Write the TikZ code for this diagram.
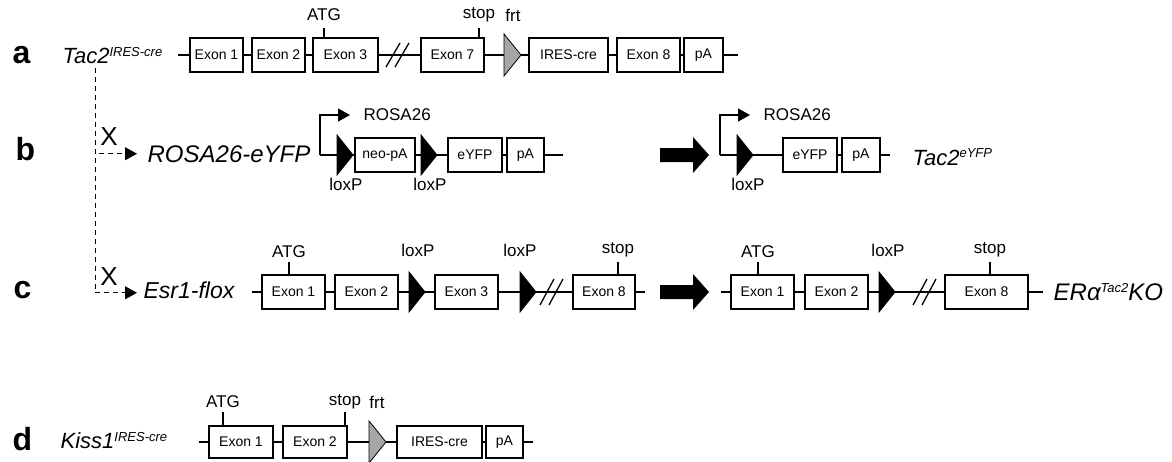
\documentclass[tikz,border=0pt]{standalone}
\usepackage{fontspec}
\setmainfont{Liberation Sans}
\usetikzlibrary{positioning}
\usetikzlibrary{shapes.geometric}
\usetikzlibrary{arrows.meta}

\begin{document}
\begin{tikzpicture}[x=1pt,y=-1pt,line width=1.3pt,>={Triangle[length=12pt,width=13pt]}]
			\tikzstyle{exon}=[draw,fill=white,minimum height=34pt,inner sep=0pt,outer sep=0pt,font=\fontsize{14}{16}\selectfont]
			\tikzstyle{loxp}=[isosceles triangle,isosceles triangle stretches,draw,line width=0.8pt,fill=black,minimum height=16pt,minimum width=40pt,inner sep=0pt,outer sep=0pt,anchor=apex]
			\tikzstyle{frt}=[loxp,fill=black!35,minimum height=17pt,minimum width=42pt]
			\tikzstyle{lbl}=[inner sep=0pt,font=\fontsize{17}{19}\selectfont]
			\tikzstyle{panel}=[anchor=base west,inner sep=0pt,font=\fontsize{32}{34}\selectfont\bfseries]
			\tikzstyle{allele}=[anchor=base west,inner sep=0pt,font=\fontsize{23}{26}\selectfont\itshape]
			\tikzstyle{xmark}=[inner sep=0pt,font=\fontsize{26}{28}\selectfont]
			\tikzstyle{dashln}=[dash pattern=on 5pt off 4pt,line width=1pt]
			\useasboundingbox (0,0) rectangle (1172,461);

			\node[panel]  (pa)   at (12,63)  {a};
			\node[allele,font=\fontsize{22}{26}\selectfont\itshape] (tac2) at (62,63) {Tac2\raisebox{7pt}{\fontsize{13}{15}\selectfont IRES-cre}};
			\coordinate   (a0)   at (178,55);
			\node[exon,minimum width=53pt] (ex1a)  at (216.5,55) {Exon 1};
			\node[exon,minimum width=53pt] (ex2a)  at (278.5,55) {Exon 2};
			\node[exon,minimum width=65pt] (ex3a)  at (345.5,55) {Exon 3};
			\node[exon,minimum width=63pt] (ex7a)  at (452.5,55) {Exon 7};
			\node[frt]                     (frta)  at (521,55)   {};
			\node[exon,minimum width=79pt] (iresa) at (568.5,55) {IRES-cre};
			\node[exon,minimum width=63pt] (ex8a)  at (648.5,55) {Exon 8};
			\node[exon,minimum width=39pt] (pAa)   at (703.5,55) {pA};
			\coordinate   (a9)   at (738,55);
			\node[lbl]    (atga)  at (324,15) {ATG};
			\node[lbl]    (stopa) at (479,15) {stop};
			\node[lbl]    (frtla) at (513,15) {frt};

			\path (a0) edge (ex1a)
			(ex1a) edge (ex2a)
			(ex2a) edge (ex3a)
			(ex3a) edge (ex7a)
			(ex7a) edge (frta)
			(frta) edge (iresa)
			(iresa) edge (ex8a)
			(ex8a) edge (pAa)
			(pAa) edge (a9);
			\draw (atga.south |- ex3a.north) -- ++(0,-10);
			\draw (stopa.south |- ex7a.north) -- ++(0,-10);
			\draw[shift={(398,55)}] (-12,12) -- (2,-12) (-3,12) -- (11,-12);

			\node[panel]  (pb)   at (15,160) {b};
			\node[allele,font=\fontsize{24}{26}\selectfont\itshape] (rosaeyfp) at (147,162) {ROSA26-eYFP};
			\node[xmark]  (xb)   at (109,137) {X};
			\coordinate   (b0)   at (320,155);
			\node[loxp]                    (lxb1)  at (353,155) {};
			\node[exon,minimum width=60pt] (neob)  at (385,155) {neo-pA};
			\node[loxp]                    (lxb2)  at (437,155) {};
			\node[exon,minimum width=54pt] (eyfpb) at (475,155) {eYFP};
			\node[exon,minimum width=37pt] (pAb)   at (525.5,155) {pA};
			\coordinate   (b9)   at (563,155);
			\node[lbl,anchor=west] (rosab) at (363,115) {ROSA26};
			\node[lbl]    (loxb1) at (346,184) {loxP};
			\node[lbl]    (loxb2) at (430,184) {loxP};

			\path (b0) edge (lxb1)
			(lxb1) edge (neob)
			(neob) edge (lxb2)
			(lxb2) edge (eyfpb)
			(eyfpb) edge (pAb)
			(pAb) edge (b9);
			\draw[->,shorten >=13pt] (b0) |- (rosab.west);

			\coordinate   (arrb) at (660,155);
			\fill[shift={(arrb)}] (0,-7) -- (33,-7) -- (33,-18) -- (49,0) -- (33,18) -- (33,7) -- (0,7) -- cycle;

			\coordinate   (b0r)  at (720,155);
			\node[loxp]                    (lxb3)  at (753,155) {};
			\node[exon,minimum width=54pt] (eyfpr) at (810,155) {eYFP};
			\node[exon,minimum width=38pt] (pAr)   at (861,155) {pA};
			\coordinate   (b9r)  at (890,155);
			\node[lbl,anchor=west] (rosar) at (763,115) {ROSA26};
			\node[lbl]    (loxb3) at (748,184) {loxP};
			\node[allele,font=\fontsize{22}{26}\selectfont\itshape] (tac2yfp) at (912,165) {Tac2\raisebox{8pt}{\fontsize{13}{15}\selectfont eYFP}};

			\path (b0r) edge (lxb3)
			(lxb3) edge (eyfpr)
			(eyfpr) edge (pAr)
			(pAr) edge (b9r);
			\draw[->,shorten >=13pt] (b0r) |- (rosar.west);

			\node[panel]  (pc)   at (13,298) {c};
			\node[allele] (esr)  at (143,298) {Esr1-flox};
			\node[xmark]  (xc)   at (109,277) {X};
			\coordinate   (c0)   at (252,292);
			\node[exon,minimum width=63pt] (ex1c)  at (293.5,292) {Exon 1};
			\node[exon,minimum width=63pt] (ex2c)  at (366.5,292) {Exon 2};
			\node[loxp]                    (lxc1)  at (425,292) {};
			\node[exon,minimum width=63pt] (ex3c)  at (466.5,292) {Exon 3};
			\node[loxp]                    (lxc2)  at (536,292) {};
			\node[exon,minimum width=62pt] (ex8c)  at (604,292) {Exon 8};
			\coordinate   (c9)   at (645,292);
			\node[lbl]    (atgc)  at (289,252) {ATG};
			\node[lbl]    (loxc1) at (418,250) {loxP};
			\node[lbl]    (loxc2) at (520,250) {loxP};
			\node[lbl]    (stopc) at (618,250) {stop};

			\path (c0) edge (ex1c)
			(ex1c) edge (ex2c)
			(ex2c) edge (lxc1)
			(lxc1) edge (ex3c)
			(ex3c) edge (lxc2)
			(lxc2) edge (ex8c)
			(ex8c) edge (c9);
			\draw (atgc.south |- ex1c.north) -- ++(0,-13);
			\draw (stopc.south |- ex8c.north) -- ++(0,-13);
			\draw[shift={(552,292)}] (-12,13) -- (2,-13) (-3,13) -- (11,-13);

			\coordinate   (arrc) at (660,292);
			\fill[shift={(arrc)}] (0,-7) -- (33,-7) -- (33,-18) -- (49,0) -- (33,18) -- (33,7) -- (0,7) -- cycle;

			\coordinate   (c0r)  at (721,292);
			\node[exon,minimum width=63pt] (ex1cr) at (762.5,292) {Exon 1};
			\node[exon,minimum width=63pt] (ex2cr) at (836.5,292) {Exon 2};
			\node[loxp]                    (lxc3)  at (895,292) {};
			\node[exon,minimum width=83pt] (ex8cr) at (986.5,292) {Exon 8};
			\coordinate   (c9r)  at (1043,292);
			\node[lbl]    (atgcr)  at (758,252) {ATG};
			\node[lbl]    (loxc3)  at (888,250) {loxP};
			\node[lbl]    (stopcr) at (990,250) {stop};
			\node[allele,font=\fontsize{24}{26}\selectfont\itshape] (era) at (1053,300) {ER\char"03B1\raisebox{8pt}{\fontsize{13}{15}\selectfont Tac2}KO};

			\path (c0r) edge (ex1cr)
			(ex1cr) edge (ex2cr)
			(ex2cr) edge (lxc3)
			(lxc3) edge (ex8cr)
			(ex8cr) edge (c9r);
			\draw (atgcr.south |- ex1cr.north) -- ++(0,-13);
			\draw (stopcr.south |- ex8cr.north) -- ++(0,-13);
			\draw[shift={(925,292)}] (-12,13) -- (2,-13) (-3,13) -- (11,-13);

			\draw[dashln,->,shorten >=10pt] ([xshift=33pt,yshift=-4pt]tac2.south west) |- (rosaeyfp.west);
			\draw[dashln,->,shorten >=6pt] ([xshift=33pt,yshift=-4pt]tac2.south west) |- ([yshift=-3pt]esr.west);

			\node[panel]  (pd)   at (12,450) {d};
			\node[allele,font=\fontsize{22}{26}\selectfont\itshape] (kiss) at (60,448) {Kiss1\raisebox{7pt}{\fontsize{13}{15}\selectfont IRES-cre}};
			\coordinate   (d0)   at (199,442);
			\node[exon,minimum width=64pt,minimum height=32pt] (ex1d)  at (241,442)   {Exon 1};
			\node[exon,minimum width=64pt,minimum height=32pt] (ex2d)  at (315,442)   {Exon 2};
			\node[frt]                                         (frtd)  at (386,442)   {};
			\node[exon,minimum width=85pt,minimum height=32pt] (iresd) at (439.5,442) {IRES-cre};
			\node[exon,minimum width=37pt,minimum height=32pt] (pAd)   at (504.5,442) {pA};
			\coordinate   (d9)   at (533,442);
			\node[lbl]    (atgd)  at (223,402) {ATG};
			\node[lbl]    (stopd) at (345,402) {stop};
			\node[lbl]    (frtld) at (377,402) {frt};

			\path (d0) edge (ex1d)
			(ex1d) edge (ex2d)
			(ex2d) edge (frtd)
			(frtd) edge (iresd)
			(iresd) edge (pAd)
			(pAd) edge (d9);
			\draw (atgd.south |- ex1d.north) -- ++(0,-14);
			\draw (stopd.south |- ex2d.north) -- ++(0,-14);
\end{tikzpicture}
\end{document}
